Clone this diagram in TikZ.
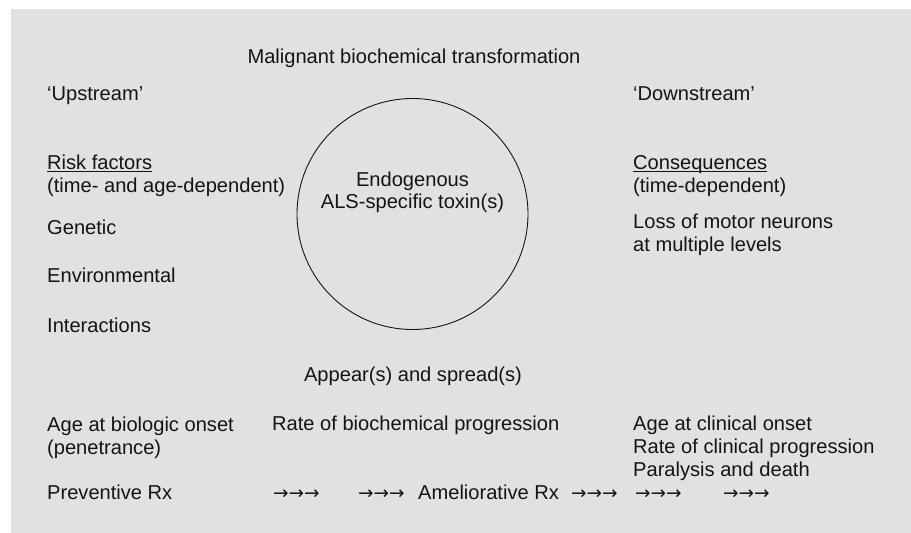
\documentclass[tikz,border=0pt]{standalone}
\usepackage{fontspec}
\setmainfont{Liberation Sans}
\newfontfamily\arrowfont{DejaVu Sans}
\definecolor{bggray}{RGB}{225,225,225}
\definecolor{ink}{RGB}{20,20,20}
\newcommand\myul[1]{\setbox0\hbox{#1}\rlap{\rule[-2.6pt]{\wd0}{0.9pt}}#1}
\newcommand\arr{{\arrowfont\fontsize{18.5}{20}\selectfont →→→}}
\begin{document}
\begin{tikzpicture}[x=1pt,y=-1pt,
  txt/.style={anchor=base west,inner sep=0pt,text=ink,font=\fontsize{20.1}{23}\selectfont},
  ctxt/.style={txt,anchor=base},
  arrgroup/.style={anchor=base west,inner sep=0pt,text=ink}]
\useasboundingbox (0,0) rectangle (911,533);
\fill[bggray] (11,9) rectangle (911,533);
\node[circle,draw=ink,line width=0.9pt,minimum size=231pt,inner sep=0pt] (circ) at (412.5,214) {};
\node[ctxt] (malig) at (414,63) {Malignant biochemical transformation};
\node[txt] (up) at (47,100) {`Upstream'};
\node[txt] (down) at (633,100) {`Downstream'};
\node[txt] (risk) at (47,169) {\myul{Risk factors}};
\node[txt] (timeage) at (47,192) {(time- and age-dependent)};
\node[txt] (gen) at (47,234) {Genetic};
\node[txt] (env) at (47,282) {Environmental};
\node[txt] (inter) at (47,332) {Interactions};
\node[txt] (cons) at (633,169) {\myul{Consequences}};
\node[txt] (timedep) at (633,192) {(time-dependent)};
\node[txt] (loss) at (633,228) {Loss of motor neurons};
\node[txt] (multi) at (633,251) {at multiple levels};
\node[ctxt] (endo) at (412.5,186) {Endogenous};
\node[ctxt] (als) at (412.5,208) {ALS-specific toxin(s)};
\node[ctxt] (appear) at (413,381) {Appear(s) and spread(s)};
\node[txt] (agebio) at (47,431) {Age at biologic onset};
\node[txt] (pen) at (47,454) {(penetrance)};
\node[txt] (rate) at (272,430) {Rate of biochemical progression};
\node[txt] (ageclin) at (633,430) {Age at clinical onset};
\node[txt] (rateclin) at (633,453) {Rate of clinical progression};
\node[txt] (para) at (633,476) {Paralysis and death};
\node[txt] (prev) at (47,499) {Preventive Rx};
\node[arrgroup] (a1) at (273,499) {\arr};
\node[arrgroup] (a2) at (358,499) {\arr};
\node[txt] (amel) at (418,499) {Ameliorative Rx};
\node[arrgroup] (a3) at (571,499) {\arr};
\node[arrgroup] (a4) at (635,499) {\arr};
\node[arrgroup] (a5) at (723,499) {\arr};
\end{tikzpicture}
\end{document}
